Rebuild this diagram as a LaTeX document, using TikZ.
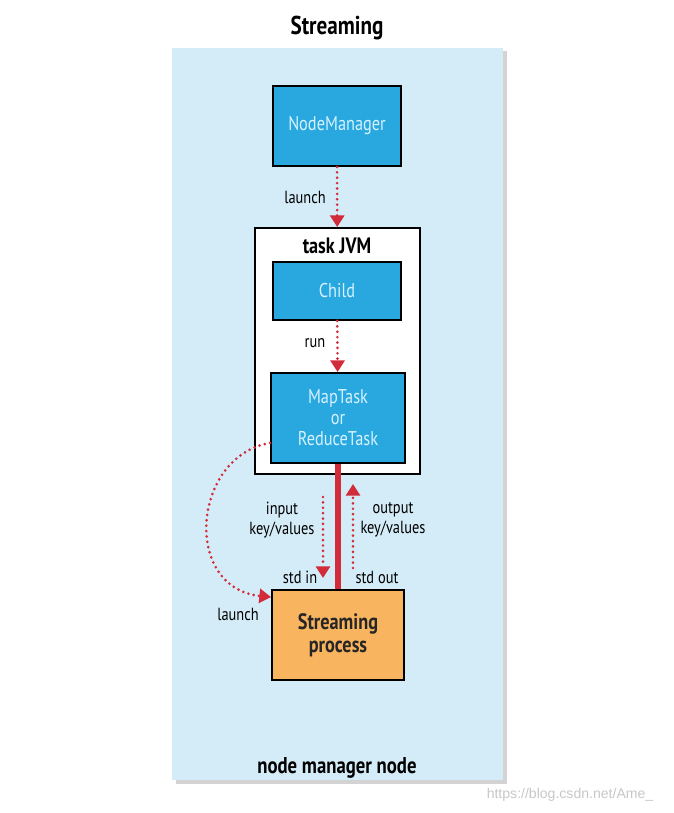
\documentclass[tikz,border=0pt]{standalone}
\usepackage{fontspec}
\setmainfont[FakeStretch=0.82]{PT Sans}
\newfontfamily\wmfont{Liberation Sans}
\usetikzlibrary{arrows.meta,shadows}
\definecolor{panelblue}{HTML}{D4ECF7}
\definecolor{boxblue}{HTML}{29A8E0}
\definecolor{boxtext}{HTML}{D6F2FF}
\definecolor{linkred}{HTML}{D22B3A}
\definecolor{procorange}{HTML}{F8B45E}
\tikzset{
  bluebox/.style={draw=black, line width=1.6pt, fill=boxblue, text=boxtext, align=center,
    font=\fontsize{17}{18}\selectfont},
  lbl/.style={font=\fontsize{15}{17}\selectfont, align=center},
  heading/.style={font=\bfseries\fontsize{19.5}{20}\selectfont},
  dotlink/.style={linkred, line width=2.5pt, line cap=round, dash pattern=on 0pt off 4.6pt,
    -{Triangle[width=12pt,length=10pt]}},
}
\begin{document}
\begin{tikzpicture}[x=0.03cm,y=-0.03cm]
    \useasboundingbox (0,0) rectangle (674,813);

    \node[fill=panelblue, minimum width=9.93cm, minimum height=21.96cm,
      drop shadow={shadow xshift=3pt, shadow yshift=-3pt, opacity=0.35}] (panel) at (337.5,414) {};
    \node[heading, font=\bfseries\fontsize{22}{24}\selectfont] (title) at (337,28) {Streaming};
    \node[heading] (nmnode) at (337,768) {node manager node};

    \node[bluebox, minimum width=3.84cm, minimum height=2.4cm] (nm) at (337,126) {NodeManager};
    \node[draw=black, line width=1.6pt, fill=white, minimum width=4.95cm, minimum height=7.38cm] (jvm) at (337.5,351) {};
    \node[heading, font=\bfseries\fontsize{19}{20}\selectfont] (jvmlbl) at (337,246) {task JVM};
    \node[bluebox, minimum width=3.84cm, minimum height=1.74cm] (ch) at (337,291) {Child};
    \node[bluebox, minimum width=4.02cm, minimum height=2.7cm] (mt) at (338,418) {MapTask\\or\\ReduceTask};
    \node[draw=black, line width=1.6pt, fill=procorange, align=center, minimum width=3.96cm, minimum height=2.7cm,
      font=\bfseries\fontsize{19}{19.5}\selectfont, text=black!85] (sp) at (338,635) {Streaming\\process};

    \draw[dotlink] (nm) -- (jvm);
    \node[lbl] (launchA) at (305,197) {launch};
    \draw[dotlink] (ch) -- (mt);
    \node[lbl] (run) at (315,343) {run};

    \draw[linkred, line width=5pt] (mt.south) -- (sp.north);

    \coordinate (inA) at (323,497); \coordinate (inB) at (323,578);
    \coordinate (outA) at (353,568); \coordinate (outB) at (353,484);
    \draw[dotlink] (inA) -- (inB);
    \draw[dotlink] (outA) -- (outB);
    \node[lbl] (inlbl) at (282,520) {input\\key/values};
    \node[lbl] (outlbl) at (393,520) {output\\key/values};
    \node[lbl] (stdin) at (300,577) {std in};
    \node[lbl] (stdout) at (377,577) {std out};

    \draw[dotlink] ([yshift=-0.75cm]mt.west) .. controls (192,456) and (182,588) .. ([yshift=-0.24cm]sp.north west);
    \node[lbl] (launchB) at (238,614) {launch};

    \node[font=\wmfont\fontsize{12}{14}\selectfont, text=black!22] (wm) at (570,795) {https://blog.csdn.net/Ame\_};
\end{tikzpicture}
\end{document}
